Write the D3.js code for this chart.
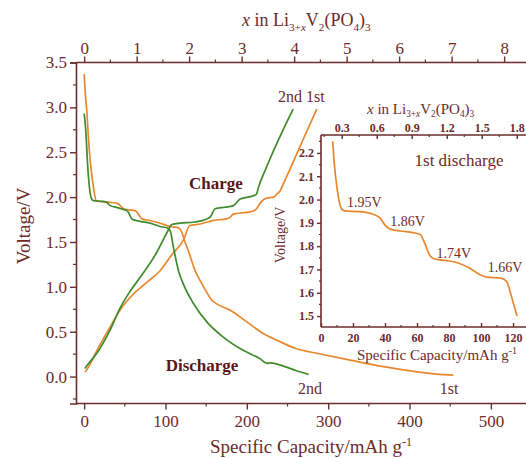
<!DOCTYPE html>
<html><head><meta charset="utf-8">
<script src="https://cdn.jsdelivr.net/npm/d3@7"></script>
<style>body{margin:0;background:#fff}svg{display:block}svg text{font-family:"Liberation Serif","Times New Roman",serif !important}</style>
</head><body>
<script>
// ---- data (capacity mAh/g, voltage V) ----
const discharge1 = [[0,3.37],[1.5,3.15],[3.3,2.96],[5,2.7],[7.4,2.41],[11.5,2.11],[14.8,1.96],[20,1.95],[32,1.942],[42,1.925],[46,1.89],[48.4,1.87],[55,1.858],[62.7,1.85],[66.8,1.81],[71,1.757],[81,1.739],[93.4,1.709],[105.7,1.672],[116,1.658],[120,1.61],[124,1.5],[128,1.405],[136.4,1.18],[142.6,1.07],[150,0.95],[157,0.85],[163,0.81],[179.5,0.74],[200,0.61],[220,0.48],[237,0.405],[261,0.31],[286,0.26],[327,0.183],[368,0.11],[409,0.053],[437.6,0.024],[454,0.017]];
const discharge2 = [[0,2.93],[1,2.85],[2.3,2.7],[4,2.4],[6.5,2.11],[9.5,1.975],[11.5,1.96],[23.7,1.953],[28,1.94],[32,1.905],[40,1.885],[46.3,1.868],[52,1.85],[54.5,1.83],[58.6,1.757],[68.8,1.73],[81,1.71],[93.4,1.672],[101.6,1.658],[105.7,1.628],[109.8,1.44],[116,1.18],[122,1.03],[134,0.82],[150.8,0.61],[171,0.44],[196,0.29],[216,0.2],[224.6,0.147],[228.6,0.153],[245,0.117],[261,0.065],[276,0.024]];
const charge1 = [[1.2,0.05],[5,0.1],[15.6,0.29],[32,0.553],[44,0.74],[60.6,0.92],[77,1.05],[93.4,1.18],[108,1.36],[122,1.52],[130,1.683],[142.6,1.70],[159,1.74],[175,1.757],[180,1.78],[183.5,1.81],[200,1.83],[208,1.845],[212,1.87],[216,1.93],[224.6,1.99],[233,2.0],[237,2.035],[241,2.07],[245,2.15],[253,2.31],[269.6,2.65],[286,2.98]];
const charge2 = [[1,0.09],[5,0.14],[15.6,0.26],[32,0.52],[44,0.76],[55,0.93],[70,1.12],[89,1.38],[101.6,1.6],[107.8,1.694],[118,1.71],[134,1.72],[150.8,1.757],[155,1.776],[161,1.87],[173,1.887],[183.5,1.905],[191.8,1.98],[208,2.015],[212,2.035],[214,2.1],[224,2.33],[233,2.52],[241,2.68],[257,2.98]];
const insetDischarge = [[7.3,2.25],[8.1,2.17],[10,2.05],[12.9,1.96],[15,1.951],[24.4,1.948],[33.7,1.934],[37,1.92],[40,1.89],[43,1.874],[49.4,1.865],[57.7,1.858],[62,1.85],[65,1.81],[68,1.76],[71,1.745],[78.5,1.738],[84.8,1.73],[93,1.705],[99.4,1.677],[103.5,1.667],[113,1.662],[116,1.648],[118,1.61],[120,1.56],[122.5,1.5]];
const mainXTicks = [0,100,200,300,400,500];
const mainYTicks = [0,0.5,1.0,1.5,2.0,2.5,3.0,3.5];
const topXTicks = [0,1,2,3,4,5,6,7,8];
const insetXTicks = [0,20,40,60,80,100,120];
const insetYTicks = [1.5,1.6,1.7,1.8,1.9,2.0,2.1,2.2];
const insetTopTicks = [0.3,0.6,0.9,1.2,1.5,1.8];
const voltLabels = [["1.95V",15,1.97],["1.86V",42,1.885],["1.74V",71,1.75],["1.66V",103,1.69]];

const W=526,H=458;
const AX="#6b2c2c", TX="#6e2a2a", BOLD="#5a1616", OR="#e8872d", GR="#3f8a2c";
const FONT="Liberation Serif";
const svg=d3.select("body").append("svg").attr("width",W).attr("height",H).attr("font-family",FONT);

// main scales
const x=d3.scaleLinear().domain([-10,550]).range([76,76+560*0.8135]);
const y=d3.scaleLinear().domain([-0.3,3.5]).range([403.5,62.5]);
const xTop=d3.scaleLinear().domain([0,8]).range([x(0),x(0)+8*52.5]);

function styleAxis(g,fs,bold){
  g.attr("font-family",FONT);
  g.selectAll(".domain").attr("stroke",AX).attr("stroke-width",1.6);
  g.selectAll(".tick line").attr("stroke",AX).attr("stroke-width",1.4);
  g.selectAll("text").attr("fill",TX).attr("font-size",fs).attr("font-weight",bold?"bold":"normal");
}
function minor(g,scale,vals,orient,len){
  vals.forEach(v=>{
    const p=scale(v);
    const vert=orient==="left"||orient==="right";
    g.append("line").attr("stroke",AX).attr("stroke-width",1.2)
     .attr("x1",vert?0:p).attr("x2",orient==="left"?-len:orient==="right"?len:p)
     .attr("y1",vert?p:0).attr("y2",orient==="bottom"?len:orient==="top"?-len:p);
  });
}
// main axes
const gL=svg.append("g").attr("transform",`translate(${x(-10)},0)`)
  .call(d3.axisLeft(y).tickValues(mainYTicks).tickFormat(d3.format(".1f")).tickSizeOuter(0).tickSize(6).tickPadding(3));
styleAxis(gL,17);
minor(gL,y,[-0.25,0.25,0.75,1.25,1.75,2.25,2.75,3.25],"left",3);
const gB=svg.append("g").attr("transform",`translate(0,${y(-0.3)})`)
  .call(d3.axisBottom(x).tickValues(mainXTicks).tickSizeOuter(0).tickSize(6).tickPadding(5));
gB.select(".domain").attr("d",`M${x(-10)},0H${W}`);
styleAxis(gB,17);
minor(gB,x,[50,150,250,350,450],"bottom",3);
const gT=svg.append("g").attr("transform",`translate(0,${y(3.5)})`)
  .call(d3.axisTop(xTop).tickValues(topXTicks).tickSizeOuter(0).tickSize(6).tickPadding(3));
gT.select(".domain").attr("d",`M${x(-10)},0H${W}`);
styleAxis(gT,17);
minor(gT,xTop,[0.5,1.5,2.5,3.5,4.5,5.5,6.5,7.5],"top",3);

// axis titles
svg.append("text").attr("transform","translate(30,226) rotate(-90)").attr("text-anchor","middle")
  .attr("font-size",19).attr("fill",TX).text("Voltage/V");
const bt=svg.append("text").attr("x",311).attr("y",453).attr("text-anchor","middle").attr("font-size",19).attr("fill",TX);
bt.append("tspan").text("Specific Capacity/mAh g");
bt.append("tspan").attr("dy",-7).attr("font-size",12).text("-1");

function formulaTitle(sel,fs,sh){
  const s=fs*0.62, d=fs*sh;
  sel.append("tspan").attr("font-style","italic").text("x");
  sel.append("tspan").text(" in Li");
  sel.append("tspan").attr("dy",d).attr("font-size",s).text("3+");
  sel.append("tspan").attr("font-size",s).attr("font-style","italic").text("x");
  sel.append("tspan").attr("dy",-d).text("V");
  sel.append("tspan").attr("dy",d).attr("font-size",s).text("2");
  sel.append("tspan").attr("dy",-d).text("(PO");
  sel.append("tspan").attr("dy",d).attr("font-size",s).text("4");
  sel.append("tspan").attr("dy",-d).text(")");
  sel.append("tspan").attr("dy",d).attr("font-size",s).text("3");
}
formulaTitle(svg.append("text").attr("x",242).attr("y",26).attr("font-size",18).attr("fill",TX),18,0.3);

// main curves
const line=(sx,sy)=>d3.line().x(d=>sx(d[0])).y(d=>sy(d[1])).curve(d3.curveMonotoneX);
const curves=svg.append("g");
[[discharge1,OR],[charge1,OR],[discharge2,GR],[charge2,GR]].forEach(([d,c])=>{
  curves.append("path").attr("d",line(x,y)(d)).attr("fill","none").attr("stroke",c).attr("stroke-width",1.7);
});

// annotations
svg.append("text").attr("x",216).attr("y",189).attr("text-anchor","middle").attr("font-size",17).attr("font-weight","bold").attr("fill",BOLD).text("Charge");
svg.append("text").attr("x",202).attr("y",371).attr("text-anchor","middle").attr("font-size",17).attr("font-weight","bold").attr("fill",BOLD).text("Discharge");
svg.append("text").attr("x",278).attr("y",102).attr("font-size",16).attr("fill",TX).text("2nd 1st");
svg.append("text").attr("x",310).attr("y",394).attr("text-anchor","middle").attr("font-size",16).attr("fill",TX).text("2nd");
svg.append("text").attr("x",449).attr("y",394).attr("text-anchor","middle").attr("font-size",16).attr("fill",TX).text("1st");

// inset
const ix=d3.scaleLinear().domain([0,128.1]).range([321,526]);
const iy=d3.scaleLinear().domain([1.453,2.277]).range([327,135]);
const ixTop=d3.scaleLinear().domain([0,1]).range([341.7-35,341.7-35+116.7]);
svg.append("rect").attr("x",321).attr("y",135).attr("width",W-321).attr("height",192).attr("fill","#fff");
const iL=svg.append("g").attr("transform","translate(321,0)")
  .call(d3.axisLeft(iy).tickValues(insetYTicks).tickFormat(d3.format(".1f")).tickSizeOuter(0).tickSize(4).tickPadding(3));
iL.select(".domain").attr("d","M0,135V327");
styleAxis(iL,12,true);
minor(iL,iy,[1.55,1.65,1.75,1.85,1.95,2.05,2.15,2.25],"left",2);
const iB=svg.append("g").attr("transform","translate(0,327)")
  .call(d3.axisBottom(ix).tickValues(insetXTicks).tickSizeOuter(0).tickSize(-4).tickPadding(6));
iB.select(".domain").attr("d",`M321,0H${W}`);
styleAxis(iB,12,true);
minor(iB,ix,[10,30,50,70,90,110],"top",2);
const iT=svg.append("g").attr("transform","translate(0,135)")
  .call(d3.axisTop(ixTop).tickValues(insetTopTicks).tickSizeOuter(0).tickSize(-4).tickPadding(3));
iT.select(".domain").attr("d",`M321,0H${W}`);
styleAxis(iT,12,true);
minor(iT,ixTop,[0.15,0.45,0.75,1.05,1.35,1.65],"bottom",2);

svg.append("path").attr("d",line(ix,iy)(insetDischarge)).attr("fill","none").attr("stroke",OR).attr("stroke-width",1.7);
svg.append("text").attr("x",459).attr("y",166).attr("text-anchor","middle").attr("font-size",17).attr("fill",TX).text("1st discharge");
voltLabels.forEach(([t,cx,cy])=>{
  svg.append("text").attr("x",ix(cx)+2).attr("y",iy(cy)).attr("font-size",14).attr("fill",TX).text(t);
});
svg.append("text").attr("transform","translate(285,235) rotate(-90)").attr("text-anchor","middle").attr("font-size",14).attr("fill",TX).text("Voltage/V");
const ibt=svg.append("text").attr("x",437).attr("y",360).attr("text-anchor","middle").attr("font-size",15).attr("fill",TX);
ibt.append("tspan").text("Specific Capacity/mAh g");
ibt.append("tspan").attr("dy",-6).attr("font-size",10).text("-1");
formulaTitle(svg.append("text").attr("x",367).attr("y",114).attr("font-size",15).attr("fill",TX),15,0.2);
</script>
</body></html>
